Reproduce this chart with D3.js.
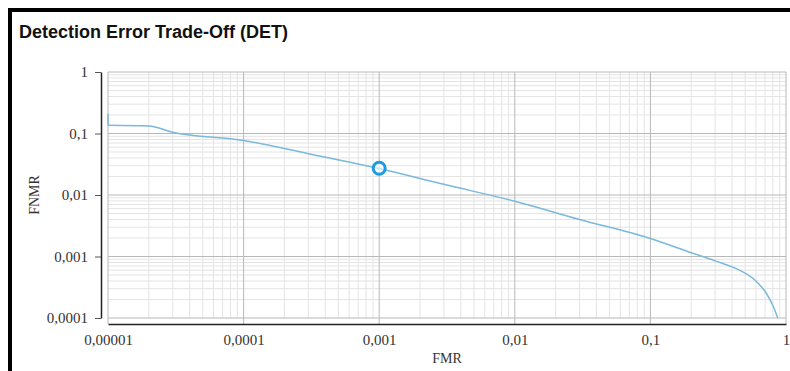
<!DOCTYPE html>
<head>
<meta charset="utf-8">
<title>Detection Error Trade-Off (DET)</title>
<script src="https://d3js.org/d3.v7.min.js"></script>
<style>
body { margin: 0; background: #fff; }
.axis text { font-family: "Liberation Serif", serif; font-size: 15px; fill: #333; }
.axis path { stroke: #222; stroke-width: 1.5; }
.axis line { stroke: #555; }
.grid-minor { stroke: #e4e4e4; stroke-width: 1; }
.grid-major { stroke: #b8b8b8; stroke-width: 1; }
.det-line { fill: none; stroke: #7ab8dc; stroke-width: 1.5; }
</style>
</head>
<body>
<div id="container"></div>
<script>
// ---------------- DATA ----------------
const fmr  = [0.00001, 0.00001, 0.00002, 0.00003, 0.0001, 0.0003, 0.001, 0.003, 0.01, 0.03, 0.1, 0.2, 0.3, 0.46, 0.6, 0.71, 0.8, 0.87];
const fnmr = [0.21, 0.136, 0.132, 0.105, 0.077, 0.047, 0.027, 0.0149, 0.0079, 0.0040, 0.00196, 0.00115, 0.00085, 0.00059, 0.00040, 0.00026, 0.00016, 0.0001];
const markerPoint = { fmr: 0.001, fnmr: 0.0272 };
const xTicks = [0.00001, 0.0001, 0.001, 0.01, 0.1, 1];
const xTickLabels = ["0,00001", "0,0001", "0,001", "0,01", "0,1", "1"];
const yTicks = [0.0001, 0.001, 0.01, 0.1, 1];
const yTickLabels = ["0,0001", "0,001", "0,01", "0,1", "1"];

// ---------------- SVG ----------------
const W = 790, H = 371;
const plot = { left: 108, right: 786, top: 72, bottom: 318 };

const svg = d3.select("#container").append("svg")
    .attr("width", W).attr("height", H);

// frame
svg.append("rect")
    .attr("x", 10).attr("y", 10)
    .attr("width", 900).attr("height", 500)
    .attr("fill", "#fff")
    .attr("stroke", "#000").attr("stroke-width", 4);

// title
svg.append("text")
    .attr("x", 19).attr("y", 38)
    .style("font-family", "'Liberation Sans', Arial, sans-serif")
    .style("font-size", "18px")
    .style("font-weight", "bold")
    .attr("fill", "#111")
    .text("Detection Error Trade-Off (DET)");

// ---------------- SCALES ----------------
const x = d3.scaleLog().domain([0.00001, 1]).range([plot.left, plot.right]);
const y = d3.scaleLog().domain([0.0001, 1]).range([plot.bottom, plot.top]);

// ---------------- GRID ----------------
function minorTicks(lo, hi) {
  const out = [];
  for (let e = Math.log10(lo); e < Math.log10(hi); e++) {
    for (let k = 2; k <= 9; k++) out.push(k * Math.pow(10, e));
  }
  return out;
}

const grid = svg.append("g");
grid.selectAll(".vx").data(minorTicks(0.00001, 1)).enter().append("line")
    .attr("class", "grid-minor")
    .attr("x1", d => x(d)).attr("x2", d => x(d))
    .attr("y1", plot.top).attr("y2", plot.bottom);
grid.selectAll(".hy").data(minorTicks(0.0001, 1)).enter().append("line")
    .attr("class", "grid-minor")
    .attr("y1", d => y(d)).attr("y2", d => y(d))
    .attr("x1", plot.left).attr("x2", plot.right);
grid.selectAll(".vxM").data(xTicks).enter().append("line")
    .attr("class", "grid-major")
    .attr("x1", d => x(d)).attr("x2", d => x(d))
    .attr("y1", plot.top).attr("y2", plot.bottom + 6);
grid.selectAll(".hyM").data(yTicks).enter().append("line")
    .attr("class", "grid-major")
    .attr("y1", d => y(d)).attr("y2", d => y(d))
    .attr("x1", plot.left).attr("x2", plot.right);

// ---------------- AXES ----------------
const xAxis = d3.axisBottom(x)
    .tickValues(xTicks)
    .tickFormat((d, i) => xTickLabels[i])
    .tickSize(0).tickPadding(10);
svg.append("g").attr("class", "axis")
    .attr("transform", "translate(0," + (plot.bottom + 6) + ")")
    .call(xAxis);

const yAxis = d3.axisLeft(y)
    .tickValues(yTicks)
    .tickFormat((d, i) => yTickLabels[i])
    .tickSizeInner(6).tickSizeOuter(0).tickPadding(7);
svg.append("g").attr("class", "axis")
    .attr("transform", "translate(" + (plot.left - 7) + ",0)")
    .call(yAxis);

// axis titles
svg.append("text")
    .attr("x", 447).attr("y", 363)
    .attr("text-anchor", "middle")
    .style("font-family", "'Liberation Serif', serif")
    .style("font-size", "14px").attr("fill", "#333")
    .text("FMR");
svg.append("text")
    .attr("transform", "translate(39,195) rotate(-90)")
    .attr("text-anchor", "middle")
    .style("font-family", "'Liberation Serif', serif")
    .style("font-size", "14px").attr("fill", "#333")
    .text("FNMR");

// ---------------- CURVE ----------------
const pts = fmr.map((f, i) => ({ f: f, v: fnmr[i] }));
const spike = d3.line().x(d => x(d.f)).y(d => y(d.v));
const line = d3.line()
    .x(d => x(d.f))
    .y(d => y(d.v))
    .curve(d3.curveMonotoneX);
svg.append("path").attr("class", "det-line")
    .attr("d", spike(pts.slice(0, 2)));
svg.append("path").attr("class", "det-line")
    .attr("d", line(pts.slice(1)));

// marker
svg.append("circle")
    .attr("cx", x(markerPoint.fmr)).attr("cy", y(markerPoint.fnmr))
    .attr("r", 6)
    .attr("fill", "#fff").attr("fill-opacity", 0.6)
    .attr("stroke", "#1b9ce2").attr("stroke-width", 3);
</script>
</body>
